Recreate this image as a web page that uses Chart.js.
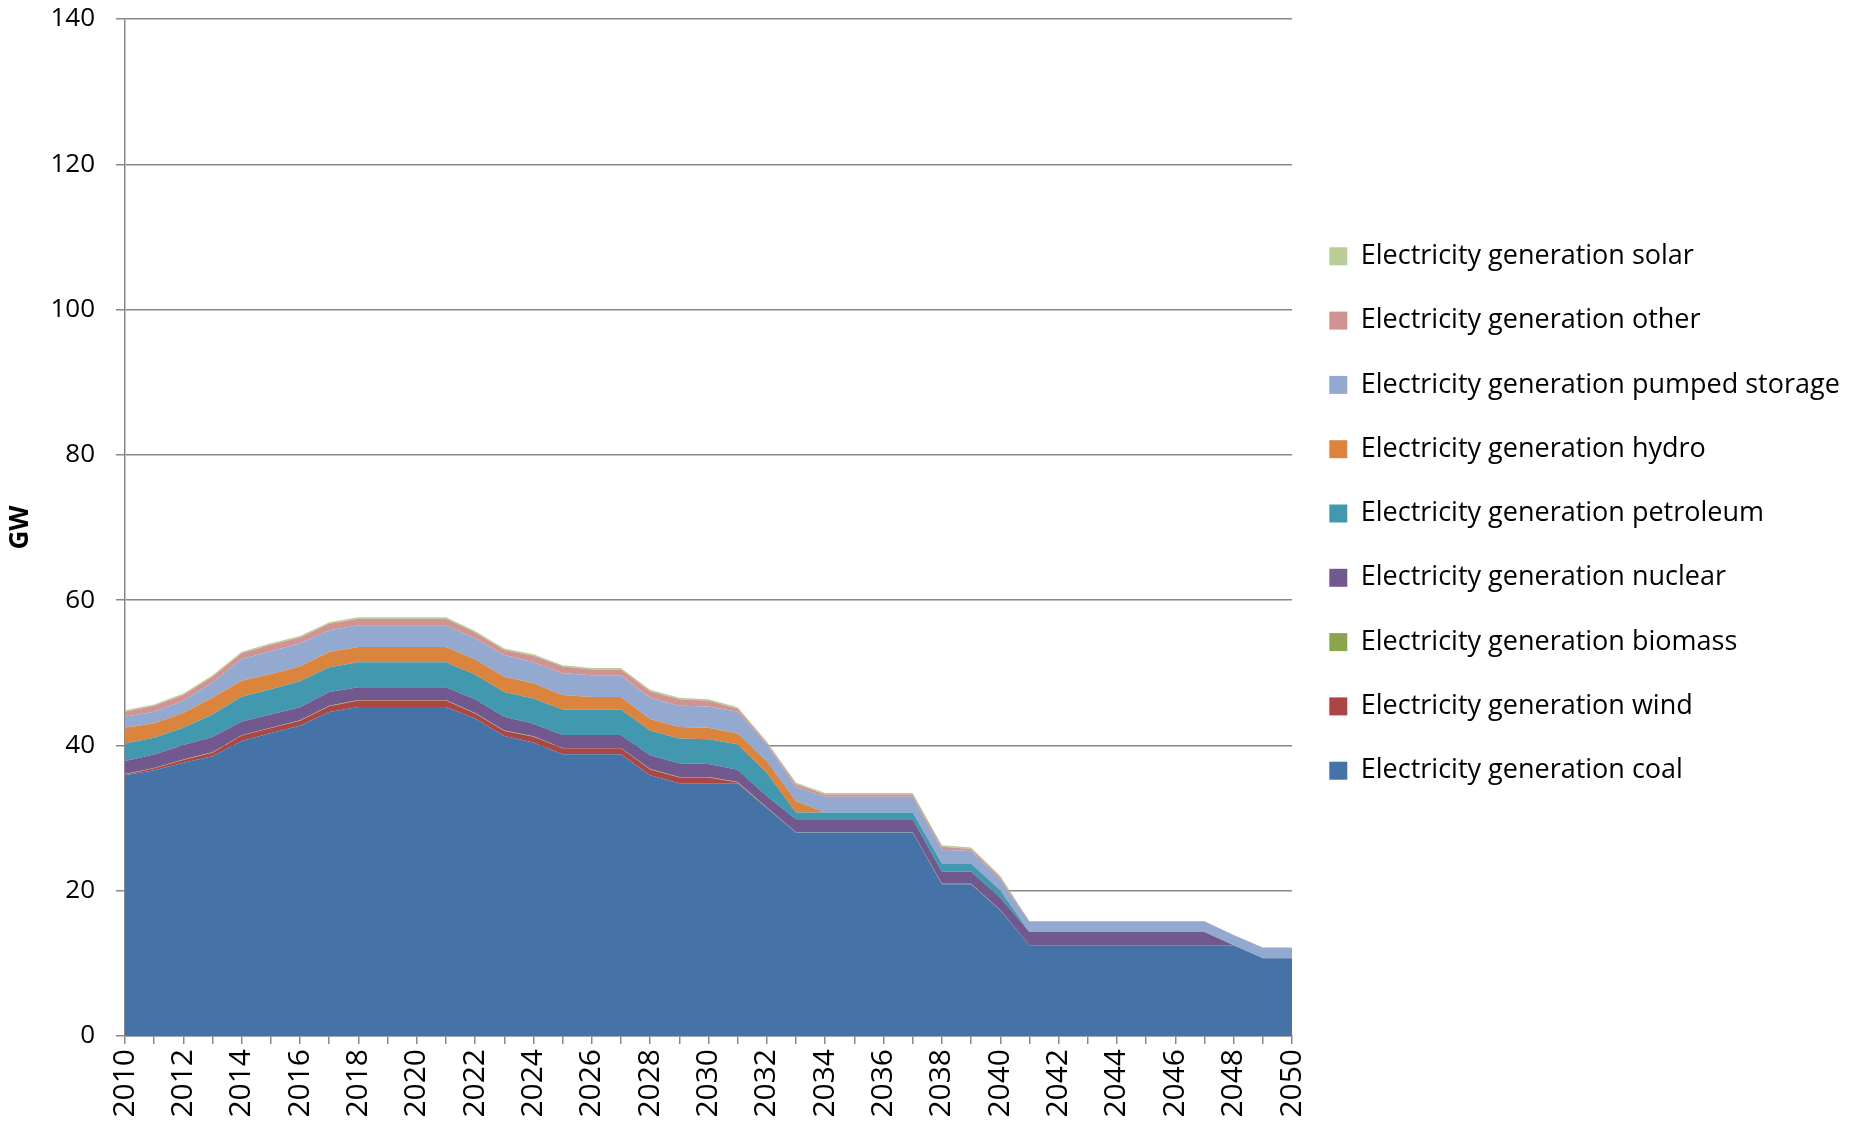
<!DOCTYPE html>
<html lang="en">
<head>
    <meta charset="UTF-8">
    <title>Electricity generation</title>
    <script src="https://cdn.jsdelivr.net/npm/chart.js"></script>
    <style>
        body {
            margin: 0;
            padding: 0;
            background: #fff;
        }

        .chart-box {
            position: relative;
            width: 1856px;
            height: 1128px;
        }
    </style>
</head>
<body>
    <div class="chart-box">
        <canvas id="generacion"></canvas>
    </div>

    <script>
        const years = ['2010', '2011', '2012', '2013', '2014', '2015', '2016', '2017', '2018', '2019',
            '2020', '2021', '2022', '2023', '2024', '2025', '2026', '2027', '2028', '2029',
            '2030', '2031', '2032', '2033', '2034', '2035', '2036', '2037', '2038', '2039',
            '2040', '2041', '2042', '2043', '2044', '2045', '2046', '2047', '2048', '2049', '2050'];

        // GW (bottom of the stack first)
        const coal = [35.9, 36.6, 37.6, 38.5, 40.6, 41.7, 42.7, 44.6, 45.3, 45.3,
            45.3, 45.3, 43.7, 41.3, 40.4, 38.8, 38.8, 38.8, 35.9, 34.8,
            34.8, 34.8, 31.4, 28.0, 28.0, 28.0, 28.0, 28.0, 20.9, 20.9,
            17.3, 12.5, 12.5, 12.5, 12.5, 12.5, 12.5, 12.5, 12.5, 10.7, 10.7];
        const wind = [0.1, 0.25, 0.4, 0.5, 0.75, 0.7, 0.7, 0.8, 0.9, 0.9,
            0.9, 0.9, 0.7, 0.7, 0.8, 0.8, 0.8, 0.8, 0.8, 0.8,
            0.8, 0.1, 0, 0, 0, 0, 0, 0, 0, 0,
            0, 0, 0, 0, 0, 0, 0, 0, 0, 0, 0];
        const biomass = [0.05, 0.05, 0.05, 0.05, 0.05, 0.05, 0.05, 0.05, 0.05, 0.05,
            0.05, 0.05, 0.05, 0.05, 0.05, 0.05, 0.05, 0.05, 0.05, 0.05,
            0.05, 0.05, 0.05, 0.05, 0.05, 0.05, 0.05, 0.05, 0.05, 0.05,
            0.05, 0, 0, 0, 0, 0, 0, 0, 0, 0, 0];
        const nuclear = [1.8, 1.85, 2.0, 2.1, 1.9, 1.8, 1.8, 1.9, 1.75, 1.75,
            1.75, 1.75, 1.9, 1.9, 1.75, 1.8, 1.8, 1.8, 1.9, 1.9,
            1.8, 1.7, 1.6, 1.8, 1.8, 1.8, 1.8, 1.8, 1.7, 1.7,
            1.7, 1.8, 1.8, 1.8, 1.8, 1.8, 1.8, 1.8, 0, 0, 0];
        const petroleum = [2.4, 2.3, 2.4, 3.1, 3.4, 3.5, 3.6, 3.4, 3.45, 3.45,
            3.45, 3.45, 3.4, 3.4, 3.45, 3.5, 3.5, 3.5, 3.4, 3.4,
            3.4, 3.5, 3.2, 0.9, 0.9, 0.9, 0.9, 0.9, 1.1, 1.1,
            1.0, 0, 0, 0, 0, 0, 0, 0, 0, 0, 0];
        const hydro = [2.2, 2.0, 2.0, 2.3, 2.2, 2.1, 2.0, 2.1, 2.1, 2.1,
            2.1, 2.1, 2.1, 2.1, 2.1, 2.0, 1.7, 1.7, 1.6, 1.6,
            1.6, 1.5, 1.6, 1.6, 0, 0, 0, 0, 0, 0,
            0, 0, 0, 0, 0, 0, 0, 0, 0, 0, 0];
        const pumpedStorage = [1.5, 1.6, 1.7, 2.1, 3.0, 3.1, 3.2, 3.0, 3.0, 3.0,
            3.0, 3.0, 2.9, 3.0, 2.9, 3.0, 3.0, 3.0, 2.9, 2.9,
            2.9, 3.0, 2.3, 1.9, 2.2, 2.2, 2.2, 2.2, 1.9, 1.7,
            1.5, 1.5, 1.5, 1.5, 1.5, 1.5, 1.5, 1.5, 1.4, 1.5, 1.5];
        const other = [0.7, 0.8, 0.8, 0.8, 0.8, 0.9, 0.8, 0.9, 0.9, 0.9,
            0.9, 0.9, 0.8, 0.7, 0.9, 0.9, 0.8, 0.8, 0.9, 0.9,
            0.8, 0.4, 0.2, 0.4, 0.3, 0.3, 0.3, 0.3, 0.4, 0.3,
            0.3, 0, 0, 0, 0, 0, 0, 0, 0, 0, 0];
        const solar = [0.2, 0.2, 0.2, 0.2, 0.2, 0.2, 0.2, 0.2, 0.2, 0.2,
            0.2, 0.2, 0.2, 0.2, 0.2, 0.2, 0.2, 0.2, 0.2, 0.2,
            0.2, 0.2, 0.2, 0.2, 0.2, 0.2, 0.2, 0.2, 0.2, 0.2,
            0.2, 0, 0, 0, 0, 0, 0, 0, 0, 0, 0];

        const seriesNames = ['coal', 'wind', 'biomass', 'nuclear', 'petroleum', 'hydro', 'pumped storage', 'other', 'solar'];
        const seriesData = [coal, wind, biomass, nuclear, petroleum, hydro, pumpedStorage, other, solar];
        const seriesColors = ['#4572A7', '#AA4643', '#89A54E', '#71588F', '#4198AF', '#DB843D', '#93A9CF', '#D19392', '#B9CD96'];

        const gridColor = '#888888';

        Chart.defaults.font.family = '"Open Sans", sans-serif';
        Chart.defaults.font.size = 26;
        Chart.defaults.color = '#000';

        const datasets = seriesNames.map((name, i) => ({
            label: 'Electricity generation ' + name,
            data: seriesData[i],
            backgroundColor: seriesColors[i],
            borderColor: seriesColors[i],
            borderWidth: 0,
            pointRadius: 0,
            tension: 0,
            fill: i === 0 ? 'origin' : '-1'
        }));

        // fixed legend column width, and the item block nudged up a little
        const legendBox = {
            id: 'legendBox',
            beforeLayout(chart) {
                const lg = chart.legend;
                if (lg && !lg._fixed) {
                    const fit = lg.fit.bind(lg);
                    lg.fit = function () {
                        fit();
                        this.width = 564;
                    };
                    lg._fixed = true;
                }
            },
            afterLayout(chart) {
                chart.legend.top -= 14;
                chart.legend.bottom -= 14;
            }
        };

        const ctx = document.getElementById('generacion').getContext('2d');
        new Chart(ctx, {
            type: 'line',
            data: {
                labels: years,
                datasets
            },
            plugins: [legendBox],
            options: {
                responsive: true,
                maintainAspectRatio: false,
                animation: false,
                layout: {
                    padding: { left: 0, top: 19, right: 0, bottom: 0 }
                },
                plugins: {
                    legend: {
                        position: 'right',
                        fullSize: false,
                        reverse: true,
                        labels: {
                            boxWidth: 18,
                            boxHeight: 18,
                            padding: 37.3,
                            color: '#000',
                            font: { size: 27 }
                        }
                    },
                    tooltip: { enabled: false }
                },
                scales: {
                    x: {
                        type: 'category',
                        offset: false,
                        afterFit(scale) { scale.height = 92; },
                        grid: {
                            drawOnChartArea: false,
                            drawTicks: true,
                            tickLength: 8,
                            color: gridColor,
                            lineWidth: 1.5
                        },
                        border: { display: true, color: gridColor, width: 1.5 },
                        ticks: {
                            autoSkip: false,
                            minRotation: 90,
                            maxRotation: 90,
                            padding: 5,
                            font: { size: 30 },
                            callback: (v, i) => (i % 2 === 0 ? years[i] : '')
                        }
                    },
                    y: {
                        stacked: true,
                        min: 0,
                        max: 140,
                        afterFit(scale) {
                            scale.width = 125;
                            scale.paddingTop = 0;
                            scale.paddingBottom = 0;
                        },
                        ticks: {
                            stepSize: 20,
                            padding: 21
                        },
                        grid: {
                            color: gridColor,
                            lineWidth: 1.5,
                            tickLength: 9
                        },
                        border: { display: true, color: gridColor, width: 1.5 },
                        title: {
                            display: true,
                            text: 'GW',
                            font: { size: 26, weight: 'bold' },
                            padding: { top: 5, bottom: 0 }
                        }
                    }
                }
            }
        });
    </script>
</body>
</html>
